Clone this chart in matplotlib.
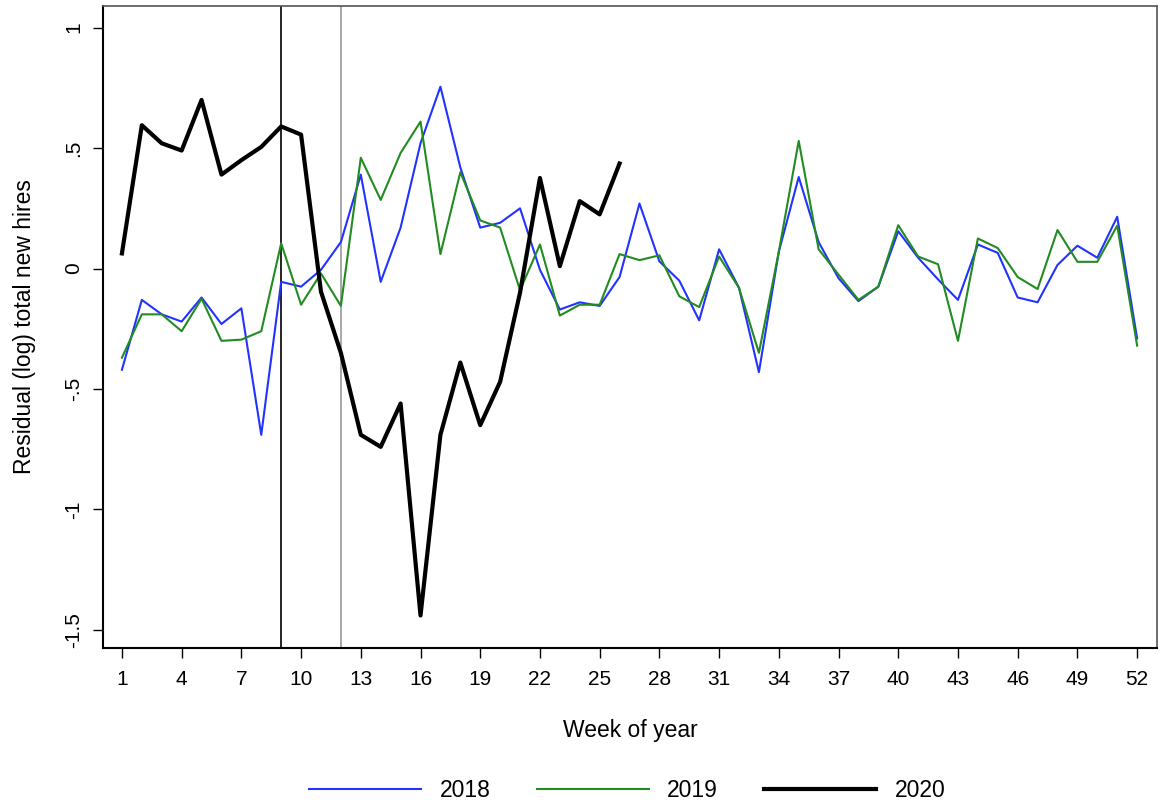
import numpy as np
import matplotlib
matplotlib.use("Agg")
import matplotlib.pyplot as plt

plt.rcParams['font.family'] = ['Liberation Sans', 'DejaVu Sans']

# week numbers
weeks = list(range(1, 53))
weeks_2020 = list(range(1, 27))

# residual (log) total new hires
res_2018 = [-0.42, -0.13, -0.19, -0.22, -0.12, -0.23, -0.165, -0.69, -0.055, -0.075,
            -0.005, 0.11, 0.39, -0.055, 0.17, 0.52, 0.755, 0.42, 0.17, 0.19,
            0.25, -0.005, -0.17, -0.14, -0.155, -0.035, 0.27, 0.03, -0.05, -0.215,
            0.08, -0.08, -0.43, 0.07, 0.38, 0.11, -0.04, -0.135, -0.075, 0.155,
            0.045, -0.045, -0.13, 0.10, 0.065, -0.12, -0.14, 0.015, 0.095, 0.045,
            0.215, -0.29]
res_2019 = [-0.37, -0.19, -0.19, -0.26, -0.125, -0.30, -0.295, -0.26, 0.105, -0.15,
            -0.02, -0.155, 0.46, 0.285, 0.48, 0.61, 0.06, 0.40, 0.20, 0.17,
            -0.09, 0.10, -0.195, -0.15, -0.15, 0.06, 0.035, 0.055, -0.115, -0.16,
            0.05, -0.08, -0.35, 0.07, 0.53, 0.08, -0.025, -0.13, -0.075, 0.18,
            0.05, 0.018, -0.30, 0.125, 0.085, -0.035, -0.085, 0.16, 0.028, 0.028,
            0.178, -0.32]
res_2020 = [0.063, 0.595, 0.52, 0.49, 0.70, 0.39, 0.45, 0.505, 0.59, 0.556,
            -0.096, -0.35, -0.69, -0.74, -0.56, -1.44, -0.69, -0.39, -0.65, -0.47,
            -0.10, 0.376, 0.01, 0.28, 0.225, 0.436]

xtick_vals = list(range(1, 53, 3))
ytick_vals = [1, 0.5, 0, -0.5, -1, -1.5]
ytick_labels = ['1', '.5', '0', '-.5', '-1', '-1.5']

fig = plt.figure(figsize=(11.68, 8.08), dpi=100)
ax = fig.add_axes([0.0882, 0.198, 0.9024, 0.7946])

# reference weeks
ax.axvline(9, color='black', lw=1.2, zorder=1)
ax.axvline(12, color='#999999', lw=1.2, zorder=1)

ax.plot(weeks, res_2018, color='#2233ff', lw=1.5, label='2018', zorder=2)
ax.plot(weeks, res_2019, color='#228b22', lw=1.5, label='2019', zorder=3)
ax.plot(weeks_2020, res_2020, color='black', lw=3, label='2020', zorder=4)

ax.set_xlim(0.05, 53.0)
ax.set_ylim(-1.575, 1.09)

ax.set_xticks(xtick_vals)
ax.set_yticks(ytick_vals, ytick_labels)
for lab in ax.get_yticklabels():
    lab.set_rotation(90)
    lab.set_va('center')

ax.tick_params(axis='both', direction='out', length=7.5, width=1, labelsize=15,
               colors='black')
ax.tick_params(axis='y', pad=7)
ax.tick_params(axis='x', pad=8)

for side in ['left', 'bottom']:
    ax.spines[side].set_linewidth(1.5)
for side in ['top', 'right']:
    ax.spines[side].set_linewidth(1.2)
    ax.spines[side].set_color('#555555')

ax.set_xlabel('Week of year', fontsize=16.5, labelpad=22)
ax.set_ylabel('Residual (log) total new hires', fontsize=16.5, labelpad=20)

fig.legend(loc='center', bbox_to_anchor=(0.537, 0.022), ncol=3, frameon=False,
           fontsize=16.5, handlelength=4.9, handletextpad=0.8, columnspacing=2.0)

fig.savefig('out.png', dpi=100)
